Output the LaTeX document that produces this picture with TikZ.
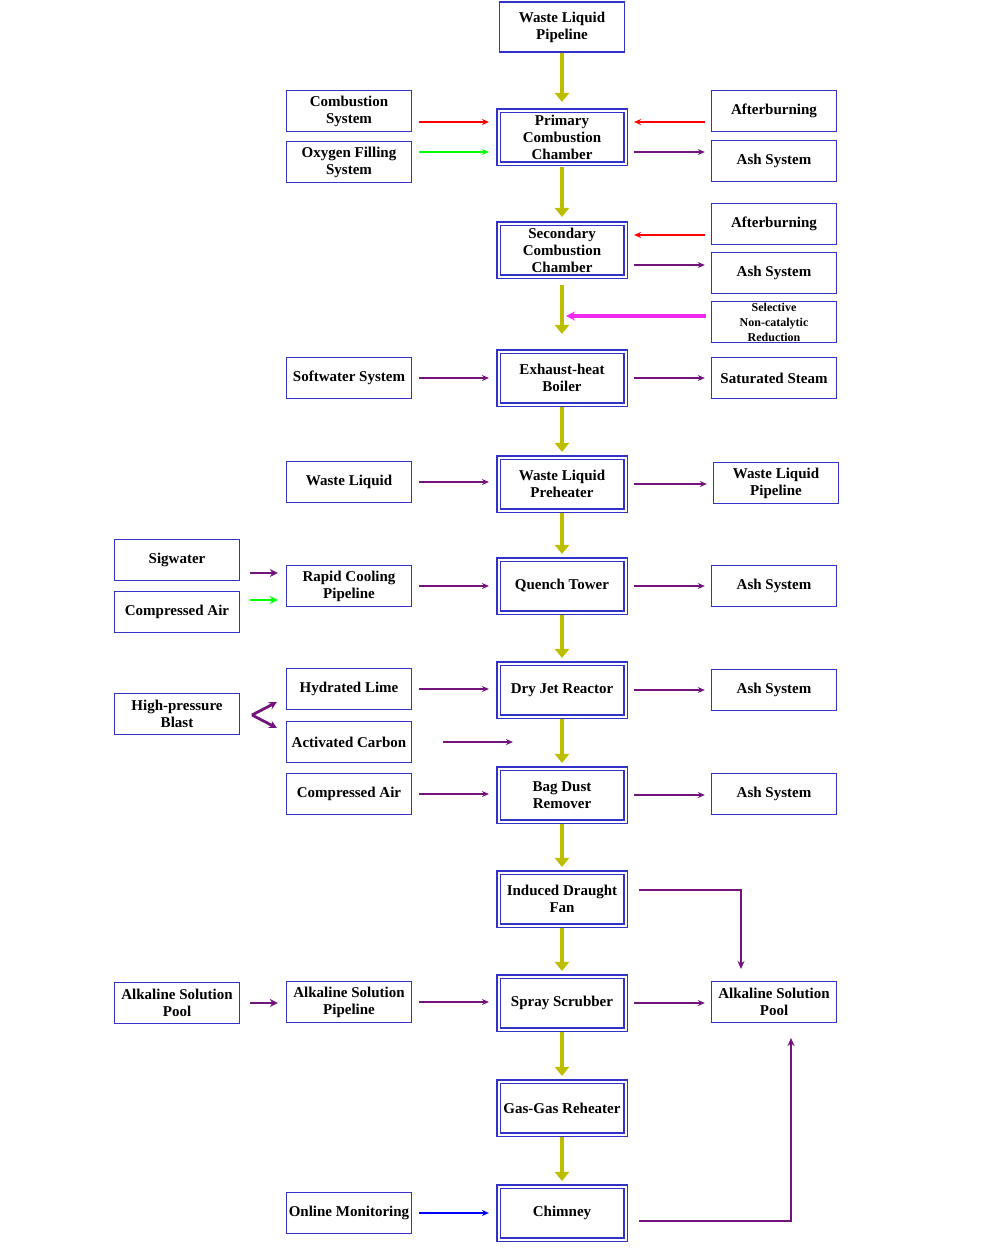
\documentclass[tikz,border=0pt]{standalone}
\usepackage{fontspec}
\setmainfont{Liberation Serif}
\usetikzlibrary{arrows.meta}
\definecolor{bl}{RGB}{50,50,200}
\definecolor{yl}{RGB}{190,190,0}
\definecolor{pu}{RGB}{115,20,125}
\definecolor{mg}{RGB}{240,40,240}
\begin{document}
\begin{tikzpicture}[x=1pt,y=-1pt,
 box/.style={draw=bl,line width=1.4pt,fill=white,minimum width=125pt,minimum height=41pt,inner sep=1pt,align=center,font=\fontsize{15}{17}\selectfont\bfseries},
 cbox/.style={box,double=white,double distance=2pt,line width=1.1pt,minimum width=127pt,minimum height=53pt},
 ya/.style={draw=yl,line width=3.5pt,-{Triangle[length=9pt,width=14pt]}},
 la/.style={line width=2.2pt,-{Stealth[length=7pt,width=6pt]},shorten <=7pt,shorten >=9pt},
 ra/.style={line width=2.2pt,-{Stealth[length=7pt,width=6pt]},shorten <=8pt,shorten >=6pt},
 ba/.style={line width=2.2pt,-{Stealth[length=7pt,width=6pt]},shorten <=6pt,shorten >=8pt},
 fa/.style={line width=2.8pt,-{Stealth[length=8pt,width=8pt]},shorten <=10pt,shorten >=8pt}]
\useasboundingbox (0,0) rectangle (1000,1259);
% center
\node[box,minimum width=125pt,minimum height=50pt] (c0) at (562,27) {Waste Liquid\\Pipeline};
\node[cbox] (c1) at (562,137) {Primary\\Combustion\\Chamber};
\node[cbox] (c2) at (562,250) {Secondary\\Combustion\\Chamber};
\node[cbox] (c3) at (562,378) {Exhaust-heat\\Boiler};
\node[cbox] (c4) at (562,484) {Waste Liquid\\Preheater};
\node[cbox] (c5) at (562,586) {Quench Tower};
\node[cbox] (c6) at (562,690) {Dry Jet Reactor};
\node[cbox] (c7) at (562,795) {Bag Dust\\Remover};
\node[cbox] (c8) at (562,899) {Induced Draught\\Fan};
\node[cbox] (c9) at (562,1003) {Spray Scrubber};
\node[cbox] (c10) at (562,1108) {Gas-Gas Reheater};
\node[cbox] (c11) at (562,1213) {Chimney};
% left
\node[box] (l1) at (349,111) {Combustion\\System};
\node[box] (l2) at (349,162) {Oxygen Filling\\System};
\node[box] (l3) at (349,378) {Softwater System};
\node[box] (l4) at (349,482) {Waste Liquid};
\node[box] (l5) at (349,586) {Rapid Cooling\\Pipeline};
\node[box] (l6) at (349,689) {Hydrated Lime};
\node[box] (l7) at (349,742) {Activated Carbon};
\node[box] (l8) at (349,794) {Compressed Air};
\node[box] (l9) at (349,1002) {Alkaline Solution\\Pipeline};
\node[box] (l10) at (349,1213) {Online Monitoring};
% far left
\node[box] (f1) at (177,560) {Sigwater};
\node[box] (f2) at (177,612) {Compressed Air};
\node[box] (f3) at (177,714) {High-pressure\\Blast};
\node[box] (f4) at (177,1003) {Alkaline Solution\\Pool};
% right
\node[box] (r1) at (774,111) {Afterburning};
\node[box] (r2) at (774,161) {Ash System};
\node[box] (r3) at (774,224) {Afterburning};
\node[box] (r4) at (774,273) {Ash System};
\node[box,font=\fontsize{12}{15}\selectfont\bfseries] (r5) at (774,322) {Selective\\Non-catalytic\\Reduction};
\node[box] (r6) at (774,378) {Saturated Steam};
\node[box] (r7) at (776,483) {Waste Liquid\\Pipeline};
\node[box] (r8) at (774,586) {Ash System};
\node[box] (r9) at (774,690) {Ash System};
\node[box] (r10) at (774,794) {Ash System};
\node[box] (r11) at (774,1002) {Alkaline Solution\\Pool};
% yellow
\draw[ya,shorten >=8pt] (c0) -- (c1);
\draw[ya,shorten >=6pt,shorten <=3pt] (c1) -- (c2);
\draw[ya,shorten <=8pt,shorten >=17pt] (c2) -- (c3);
\foreach \a/\b in {c3/c4,c4/c5,c5/c6,c6/c7,c7/c8,c8/c9,c9/c10,c10/c11}
  \draw[ya,shorten >=5pt,shorten <=2pt] (\a) -- (\b);
% left arrows
\draw[la,red] (l1.east |- 0,122) -- (c1.west |- 0,122);
\draw[la,green] (l2.east |- 0,152) -- (c1.west |- 0,152);
\foreach \l/\c in {l3/c3,l4/c4,l5/c5,l6/c6,l8/c7,l9/c9}
  \draw[la,pu] (\l.east) -- (\l.east -| \c.west);
\draw[la,blue] (l10.east) -- (l10.east -| c11.west);
\draw[pu,line width=2.2pt,-{Stealth[length=7pt,width=6pt]},shorten <=31pt,shorten >=-15pt] (l7.east) -- (l7.east -| c7.west);
% right arrows
\draw[ba,red] (r1.west |- 0,122) -- (c1.east |- 0,122);
\draw[ra,pu] (c1.east |- 0,152) -- (r2.west |- 0,152);
\draw[ba,red] (r3.west |- 0,235) -- (c2.east |- 0,235);
\draw[ra,pu] (c2.east |- 0,265) -- (r4.west |- 0,265);
\foreach \c/\r in {c3/r6,c4/r7,c5/r8,c6/r9,c7/r10,c9/r11}
  \draw[ra,pu] (\c) -- (\c -| \r.west);
\coordinate (m) at (566,316);
\draw[mg,line width=3.5pt,-{Stealth[length=9pt,width=9pt]},shorten <=5pt] (r5.west |- m) -- (m);
% far left arrows
\draw[fa,pu] (f1.east |- 0,573) -- (l5.west |- 0,573);
\draw[fa,green] (f2.east |- 0,600) -- (l5.west |- 0,600);
\coordinate (v) at (252,715);
\draw[pu,line width=2.8pt,-{Stealth[length=8pt,width=8pt]}] (v) -- (277,702);
\draw[pu,line width=2.8pt,-{Stealth[length=8pt,width=8pt]}] (v) -- (277,728);
\draw[fa,pu] (f4.east |- 0,1003) -- (l9.west |- 0,1003);
% loops
\draw[pu,line width=2.8pt,-{Stealth[length=8pt,width=7pt]}] (c8.east |- 0,890) ++(13,0) -- (741,890) -- (741,969);
\draw[pu,line width=2.8pt,-{Stealth[length=8pt,width=7pt]}] (c11.east |- 0,1221) ++(13,0) -- (791,1221) -- (791,1038);
\end{tikzpicture}
\end{document}
